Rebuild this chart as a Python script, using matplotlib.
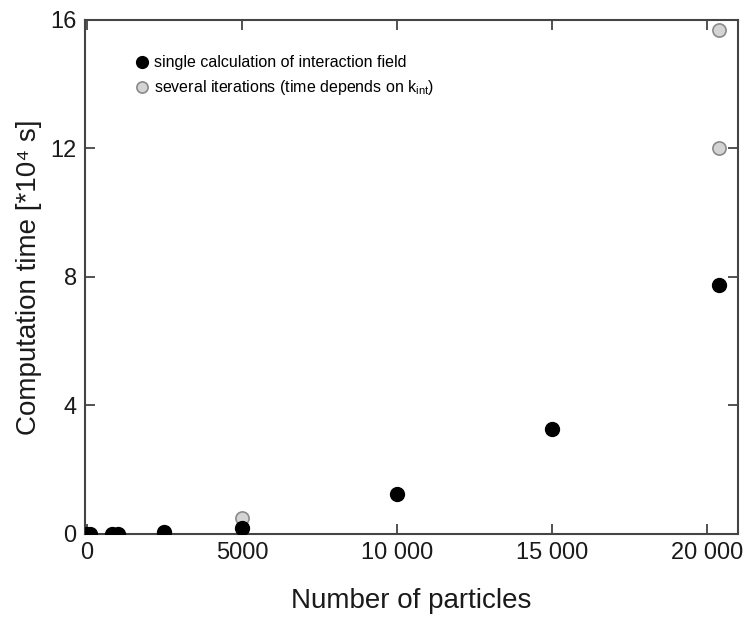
import matplotlib

matplotlib.use("Agg")
import matplotlib.pyplot as plt
from matplotlib.ticker import FuncFormatter

plt.rcParams["font.family"] = ["Liberation Sans", "DejaVu Sans"]
plt.rcParams["mathtext.fontset"] = "custom"
plt.rcParams["mathtext.rm"] = "Liberation Sans"
plt.rcParams["mathtext.it"] = "Liberation Sans"

# single calculation of interaction field
n_single = [0, 100, 800, 1000, 2500, 5000, 10000, 15000, 20400]
t_single = [0.0, 0.0, 0.0, 0.0, 0.05, 0.2, 1.25, 3.27, 7.75]
# several iterations
n_iter = [5000, 20400, 20400]
t_iter = [0.5, 12.0, 15.7]

x_ticks = [0, 5000, 10000, 15000, 20000]
y_ticks = [0, 4, 8, 12, 16]

C_AX = "#444444"

fig = plt.figure(figsize=(7.48, 6.21), dpi=100)
ax = fig.add_axes([0.1136, 0.1401, 0.8730, 0.8277])

ax.plot(n_iter, t_iter, "o", ms=9.5, color="#d4d4d4", mec="#8a8a8a", mew=1.2,
        ls="none", label="several iterations (time depends on k$_{int}$)", zorder=2)
ax.plot(n_single, t_single, "o", ms=10, color="black", mec="black",
        ls="none", label="single calculation of interaction field", zorder=3)

ax.set_xlim(-60, 21000)
ax.set_ylim(0, 16)
ax.set_xticks(x_ticks)
ax.set_yticks(y_ticks)
ax.xaxis.set_major_formatter(FuncFormatter(
    lambda v, p: f"{int(v):,}".replace(",", " ") if v >= 10000 else f"{int(v)}"))
ax.tick_params(direction="in", length=7, width=1.3, color=C_AX,
               labelsize=17, pad=6, top=True, right=True)
for s in ax.spines.values():
    s.set_color(C_AX); s.set_linewidth(1.5)
for lab in ax.get_xticklabels() + ax.get_yticklabels():
    lab.set_color("#1a1a1a")

ax.set_xlabel("Number of particles", fontsize=20, labelpad=17, color="#1a1a1a")
ax.set_ylabel("Computation time [*10⁴ s]", fontsize=20, labelpad=6, color="#1a1a1a")

h, l = ax.get_legend_handles_labels()
ax.legend(h[::-1], l[::-1], loc="upper left", bbox_to_anchor=(0.06, 0.95),
          frameon=False, fontsize=11.5, handlelength=1.0, handletextpad=0.25,
          labelspacing=0.5, markerscale=0.85, borderaxespad=0.2)

fig.savefig("out.png", dpi=100)
